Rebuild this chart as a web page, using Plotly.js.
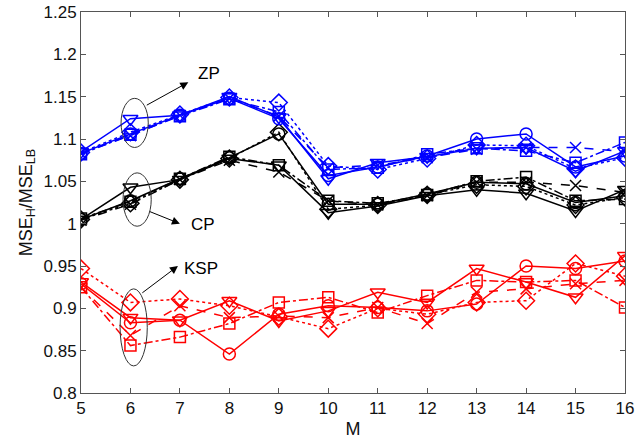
<!DOCTYPE html>
<html>
<head>
<meta charset="utf-8">
<script src="https://cdn.plot.ly/plotly-3.0.1.min.js"></script>
<style>html,body{margin:0;padding:0;background:#fff;}#chart{width:636px;height:443px;}</style>
</head>
<body>
<div id="chart"></div>
<script>
// x values
const M = [5, 6, 7, 8, 9, 10, 11, 12, 13, 14, 15, 16];

// ZP group (blue)
const zpCircle   = [1.083, 1.106, 1.128, 1.148, 1.124, 1.057, 1.067, 1.080, 1.100, 1.106, 1.067, 1.080];
const zpTriangle = [1.085, 1.124, 1.128, 1.150, 1.126, 1.053, 1.072, 1.079, 1.089, 1.090, 1.062, 1.086];
const zpSquare   = [1.082, 1.105, 1.127, 1.147, 1.132, 1.064, 1.066, 1.082, 1.089, 1.086, 1.072, 1.096];
const zpX        = [1.083, 1.104, 1.128, 1.148, 1.127, 1.066, 1.069, 1.078, 1.088, 1.090, 1.090, 1.085];
const zpDiamond  = [1.084, 1.108, 1.129, 1.149, 1.143, 1.068, 1.064, 1.077, 1.093, 1.092, 1.065, 1.078];

// CP group (black)
const cpCircle   = [1.005, 1.027, 1.053, 1.078, 1.106, 1.023, 1.023, 1.035, 1.049, 1.047, 1.025, 1.033];
const cpTriangle = [1.005, 1.043, 1.052, 1.077, 1.069, 1.013, 1.021, 1.033, 1.040, 1.036, 1.015, 1.040];
const cpSquare   = [1.006, 1.026, 1.053, 1.079, 1.069, 1.027, 1.024, 1.034, 1.050, 1.055, 1.027, 1.029];
const cpX        = [1.004, 1.023, 1.052, 1.075, 1.061, 1.027, 1.022, 1.033, 1.049, 1.049, 1.045, 1.037];
const cpDiamond  = [1.005, 1.024, 1.052, 1.077, 1.108, 1.017, 1.022, 1.034, 1.046, 1.044, 1.022, 1.031];

// KSP group (red)
const kspCircle   = [0.929, 0.883, 0.886, 0.846, 0.893, 0.903, 0.901, 0.897, 0.905, 0.950, 0.947, 0.956];
const kspTriangle = [0.931, 0.889, 0.886, 0.909, 0.885, 0.897, 0.919, 0.907, 0.947, 0.931, 0.913, 0.962];
const kspSquare   = [0.925, 0.856, 0.866, 0.882, 0.907, 0.913, 0.895, 0.915, 0.933, 0.931, 0.933, 0.901];
const kspX        = [0.925, 0.868, 0.903, 0.889, 0.891, 0.889, 0.901, 0.882, 0.919, 0.923, 0.929, 0.933];
const kspDiamond  = [0.947, 0.907, 0.911, 0.903, 0.890, 0.876, 0.900, 0.893, 0.907, 0.909, 0.953, 0.938];

const yTickVals = [0.8, 0.85, 0.9, 0.95, 1.0, 1.05, 1.1, 1.15, 1.2, 1.25];
const yTickText = ['0.8', '0.85', '0.9', '0.95', '1', '1.05', '1.1', '1.15', '1.2', '1.25'];

const styles = [
  {sym: 'circle-open', dash: 'solid', size: 12},
  {sym: 'triangle-down-open', dash: 'solid', size: 13},
  {sym: 'square-open', dash: 'dashdot', size: 11},
  {sym: 'x-thin-open', dash: 'dash', size: 11},
  {sym: 'diamond-open', dash: 'dot', size: 13}
];

function group(arrs, color) {
  return arrs.map((ys, i) => ({
    x: M, y: ys, type: 'scatter', mode: 'lines+markers',
    line: {color: color, width: 1.5, dash: styles[i].dash},
    marker: {symbol: styles[i].sym, size: styles[i].size, color: color, line: {color: color, width: 1.5}},
    showlegend: false, hoverinfo: 'skip'
  }));
}

const data = [].concat(
  group([kspCircle, kspTriangle, kspSquare, kspX, kspDiamond], '#ff0000'),
  group([cpCircle, cpTriangle, cpSquare, cpX, cpDiamond], '#000000'),
  group([zpCircle, zpTriangle, zpSquare, zpX, zpDiamond], '#0000ff')
);

const font = {family: 'Liberation Sans, Arial, sans-serif', color: '#111'};

const layout = {
  width: 636, height: 443,
  margin: {l: 81, r: 11, t: 12, b: 50},
  paper_bgcolor: '#fff', plot_bgcolor: '#fff',
  font: Object.assign({size: 17}, font),
  xaxis: {
    range: [5, 16], tickvals: M, ticks: 'inside', ticklen: 5, tickcolor: '#555',
    mirror: 'ticks', showline: true, linecolor: '#555', linewidth: 1,
    showgrid: false, zeroline: false,
    tickfont: {size: 17, family: font.family, color: '#111'},
    title: {text: 'M', font: {size: 18, family: font.family, color: '#111'}, standoff: 4}
  },
  yaxis: {
    range: [0.8, 1.25], tickvals: yTickVals, ticktext: yTickText,
    ticks: 'inside', ticklen: 5, tickcolor: '#555',
    mirror: 'ticks', showline: true, linecolor: '#555', linewidth: 1,
    showgrid: false, zeroline: false,
    tickfont: {size: 17, family: font.family, color: '#111'},
    title: {text: 'MSE<sub>H</sub>/MSE<sub>LB</sub>', font: {size: 18, family: font.family, color: '#111'}, standoff: 6}
  },
  shapes: [
    {type: 'circle', xref: 'x', yref: 'y', x0: 5.81, x1: 6.36, y0: 1.090, y1: 1.148, line: {color: '#333', width: 1}},
    {type: 'circle', xref: 'x', yref: 'y', x0: 5.85, x1: 6.42, y0: 0.997, y1: 1.060, line: {color: '#333', width: 1}},
    {type: 'circle', xref: 'x', yref: 'y', x0: 5.79, x1: 6.34, y0: 0.832, y1: 0.923, line: {color: '#333', width: 1}}
  ],
  annotations: [
    {x: 7.17, y: 1.167, ax: 6.30, ay: 1.139, axref: 'x', ayref: 'y', xref: 'x', yref: 'y', text: '', showarrow: true, arrowhead: 2, arrowsize: 1.6, arrowwidth: 1, arrowcolor: '#000'},
    {x: 7.0, y: 1.0, ax: 6.36, ay: 1.015, axref: 'x', ayref: 'y', xref: 'x', yref: 'y', text: '', showarrow: true, arrowhead: 2, arrowsize: 1.6, arrowwidth: 1, arrowcolor: '#000'},
    {x: 6.96, y: 0.950, ax: 6.21, ay: 0.917, axref: 'x', ayref: 'y', xref: 'x', yref: 'y', text: '', showarrow: true, arrowhead: 2, arrowsize: 1.6, arrowwidth: 1, arrowcolor: '#000'},
    {x: 7.59, y: 1.177, xref: 'x', yref: 'y', text: 'ZP', showarrow: false, font: {size: 17, family: font.family, color: '#000'}},
    {x: 7.47, y: 0.999, xref: 'x', yref: 'y', text: 'CP', showarrow: false, font: {size: 17, family: font.family, color: '#000'}},
    {x: 7.43, y: 0.947, xref: 'x', yref: 'y', text: 'KSP', showarrow: false, font: {size: 17, family: font.family, color: '#000'}}
  ]
};

Plotly.newPlot('chart', data, layout, {staticPlot: true, displayModeBar: false});
</script>
</body>
</html>
